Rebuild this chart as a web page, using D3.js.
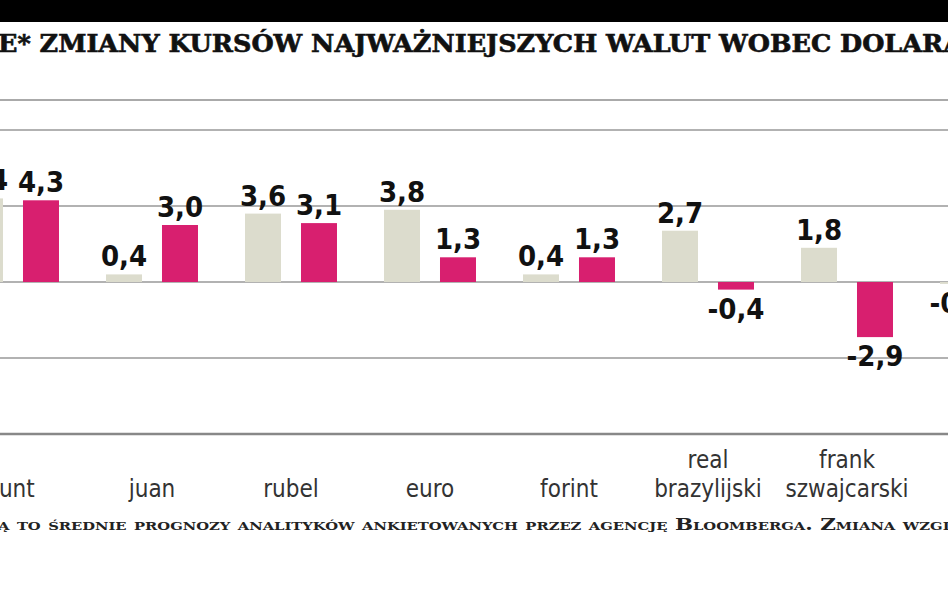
<!DOCTYPE html>
<html><head><meta charset="utf-8">
<script src="https://cdn.jsdelivr.net/npm/d3@7"></script>
<style>body{margin:0;background:#fff}svg{display:block}</style>
</head><body>
<script>
const categories = ["funt", "juan", "rubel", "euro", "forint", "real brazylijski", "frank szwajcarski", "jen"];
const seriesGray = [4.4, 0.4, 3.6, 3.8, 0.4, 2.7, 1.8, -0.1];
const seriesPink = [4.3, 3.0, 3.1, 1.3, 1.3, -0.4, -2.9, 5.0];
const yTicks = [-8, -4, 0, 4, 8];
const fmt = v => String(v.toFixed(1)).replace(".", ",");

const W = 948, H = 593;
const svg = d3.select("body").append("svg").attr("width", W).attr("height", H);
svg.append("rect").attr("x",0).attr("y",0).attr("width",W).attr("height",22).attr("fill","#000");
svg.append("text").attr("x",-2).attr("y",52)
  .attr("font-family","DejaVu Serif Condensed, DejaVu Serif").attr("font-weight","bold")
  .attr("font-size",25).attr("textLength",965).attr("lengthAdjust","spacingAndGlyphs")
  .attr("fill","#111").attr("stroke","#111").attr("stroke-width",0.6)
  .text("E* ZMIANY KURSÓW NAJWAŻNIEJSZYCH WALUT WOBEC DOLARA");

const step = 139;
const x = d3.scaleBand().domain(categories).range([13 - step/2, 13 - step/2 + step*categories.length]).padding(0);
const xs = d3.scaleBand().domain(["g","p"]).range([0, step]).paddingInner(0.357).paddingOuter(0.42);
const y = d3.scaleLinear().domain([-8, 8]).range([434, 130]);

svg.append("line").attr("x1",0).attr("x2",W).attr("y1",100).attr("y2",100).attr("stroke","#aaa").attr("stroke-width",2);
svg.selectAll(".grid").data(yTicks).join("line")
  .attr("x1",0).attr("x2",W).attr("y1",d=>y(d)).attr("y2",d=>y(d))
  .attr("stroke", d=>d===-8?"#888":"#999").attr("stroke-width", d=>d===-8?2.5:1.6);

const rows = [];
categories.forEach((c,i)=>{
  rows.push({c, s:"g", v:seriesGray[i], col:"#dcdccd"});
  rows.push({c, s:"p", v:seriesPink[i], col:"#d81f6f"});
});
svg.selectAll(".bar").data(rows).join("rect")
  .attr("x", d=>x(d.c)+xs(d.s)).attr("width", xs.bandwidth())
  .attr("y", d=>y(Math.max(0,d.v))).attr("height", d=>Math.abs(y(d.v)-y(0)))
  .attr("fill", d=>d.col);
svg.selectAll(".lab").data(rows).join("text")
  .attr("x", d=>x(d.c)+xs(d.s)+xs.bandwidth()/2)
  .attr("y", d=> d.v>=0 ? y(d.v)-8 : y(d.v)+29)
  .attr("text-anchor","middle").attr("font-family","Liberation Sans Narrow, DejaVu Sans Condensed, sans-serif")
  .attr("font-weight","bold").attr("font-size",29).attr("fill","#111")
  .text(d=>fmt(d.v));

categories.forEach(c=>{
  const words = c.split(" ");
  const cx = x(c) + step/2;
  const t = svg.append("text").attr("text-anchor","middle")
    .attr("font-family","Liberation Sans Narrow, DejaVu Sans Condensed, sans-serif")
    .attr("font-size",24).attr("fill","#333");
  words.forEach((w,i)=>{
    t.append("tspan").attr("x",cx).attr("y", 497 - (words.length-1-i)*29).text(w);
  });
});

svg.append("text").attr("x",-2).attr("y",530)
  .attr("font-family","DejaVu Serif Condensed, DejaVu Serif").attr("font-weight","bold")
  .attr("font-size",16).attr("font-variant","small-caps").attr("fill","#222")
  .attr("textLength",955).attr("lengthAdjust","spacingAndGlyphs")
  .text("ą to średnie prognozy analityków ankietowanych przez agencję Bloomberga. Zmiana wzgl");
</script>
</body></html>
